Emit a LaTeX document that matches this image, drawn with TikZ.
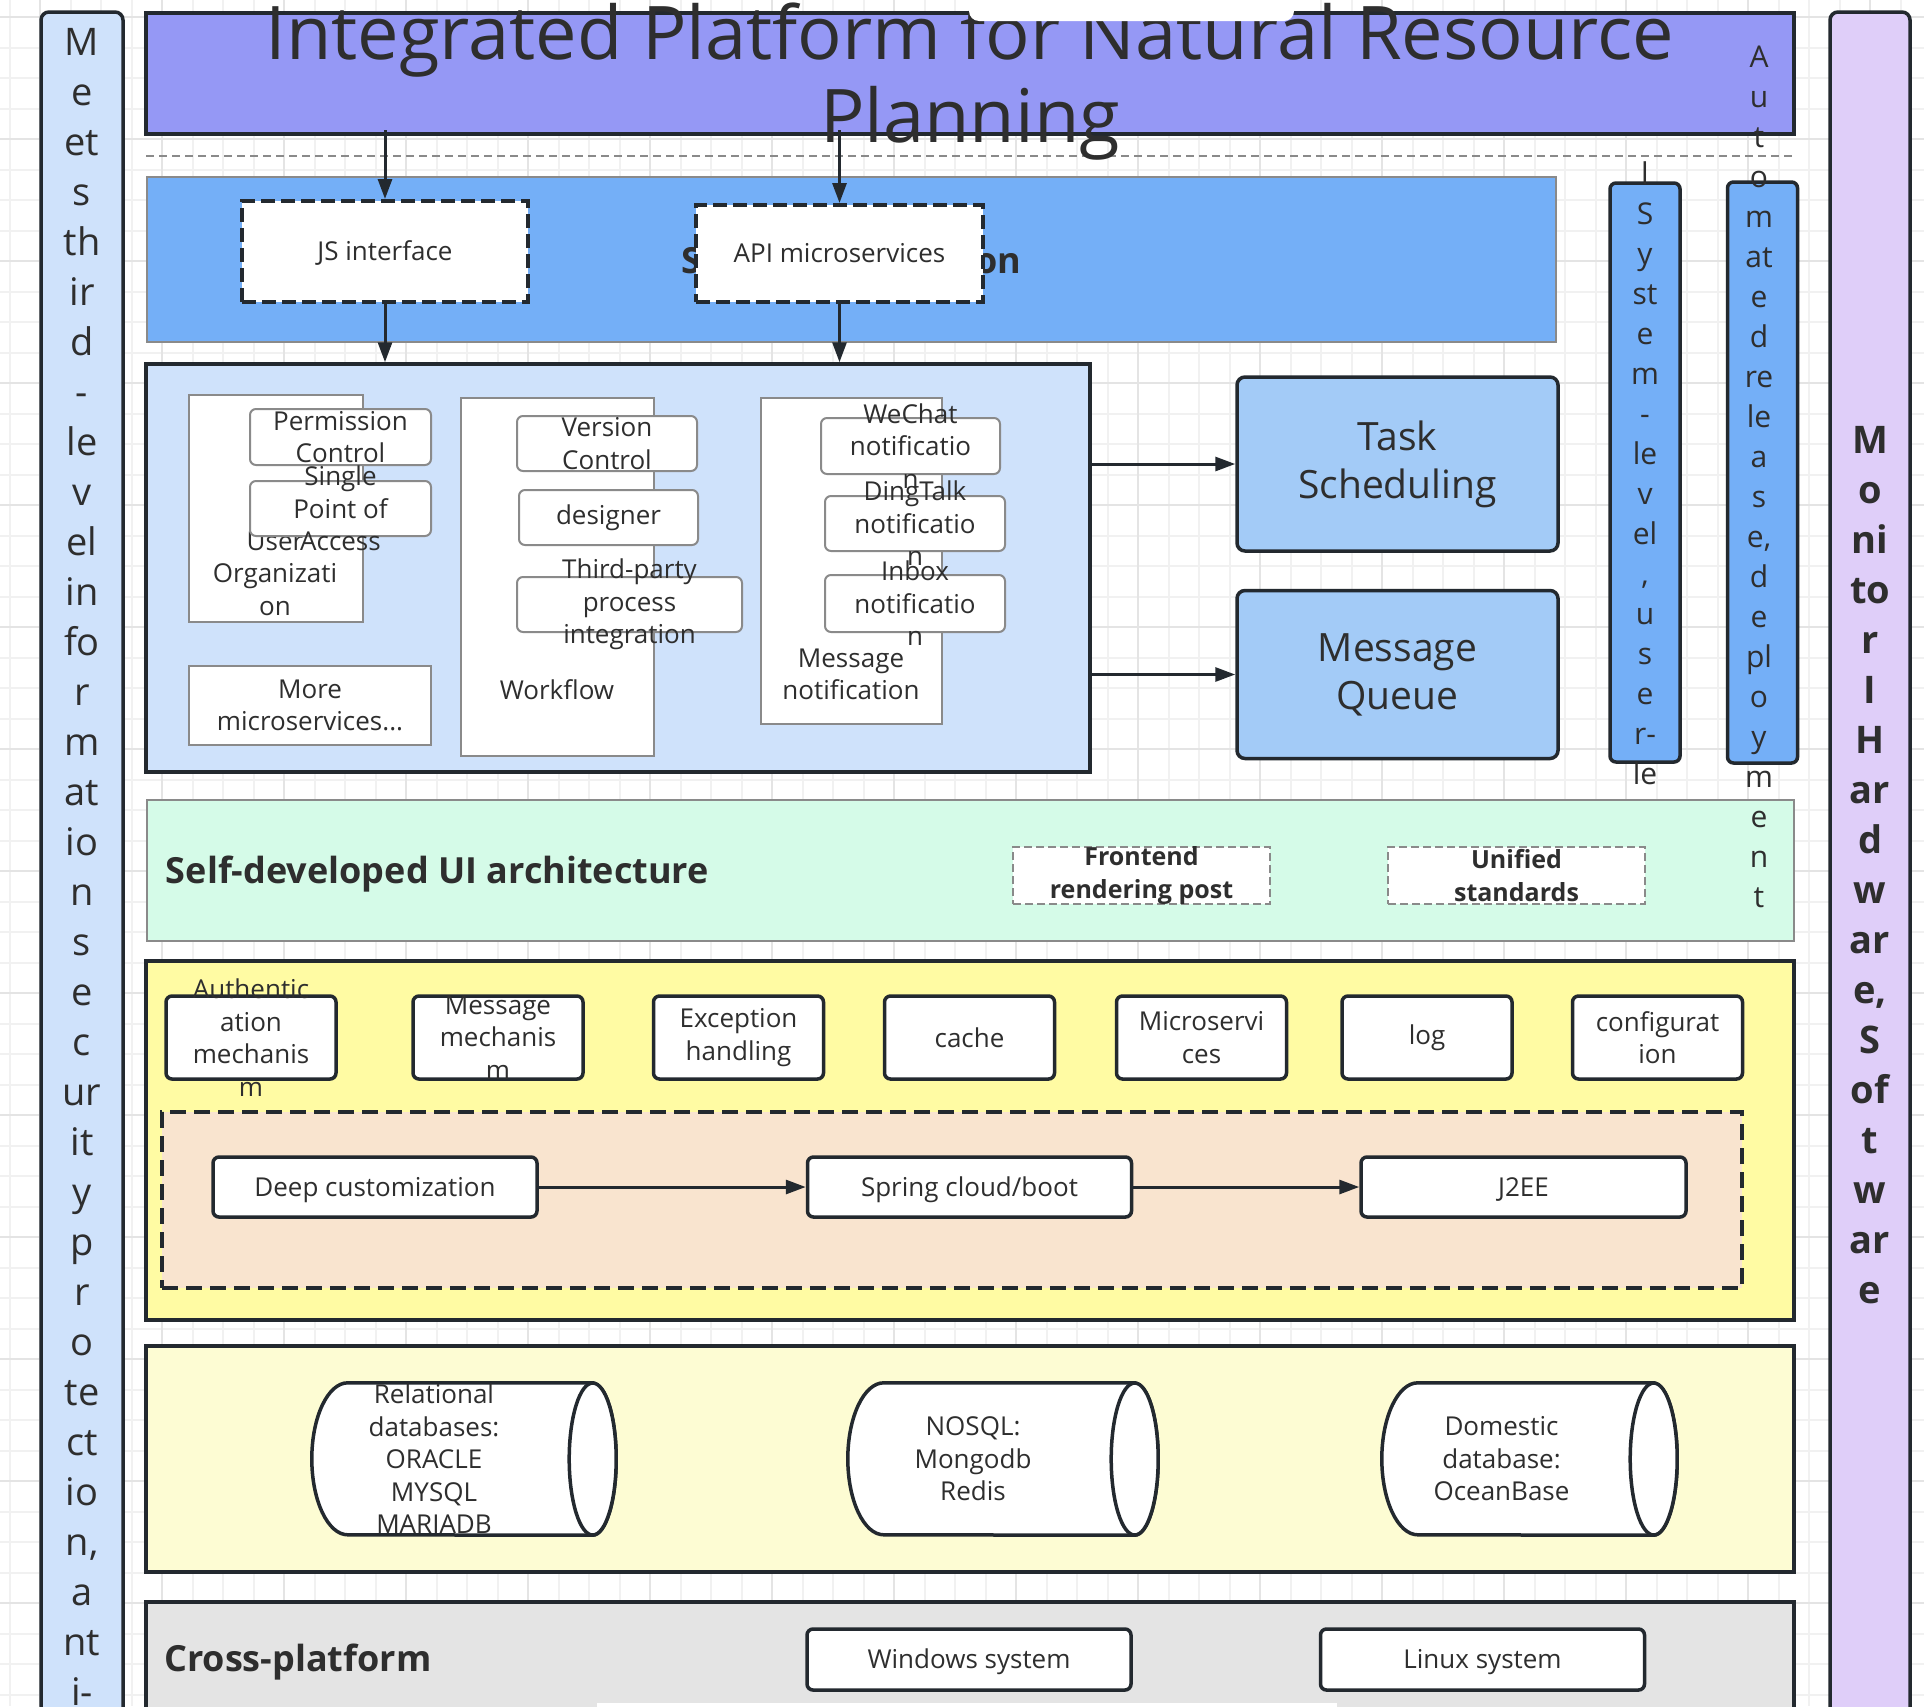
\documentclass[tikz,border=0pt]{standalone}
\usepackage{fontspec}
\setmainfont{Open Sans}
\usetikzlibrary{arrows.meta,positioning}
\definecolor{ink}{HTML}{23292F}
\definecolor{txtc}{HTML}{2E2E2E}
\definecolor{edge}{HTML}{8A8A8A}
\definecolor{gridmin}{HTML}{F1F1F1}
\definecolor{gridmaj}{HTML}{E4E4E4}
\definecolor{titlefill}{HTML}{9598F5}
\definecolor{svcfill}{HTML}{74AFF7}
\definecolor{msfill}{HTML}{CFE2FB}
\definecolor{mqfill}{HTML}{A3CBF7}
\definecolor{uifill}{HTML}{D5FBE8}
\definecolor{fwfill}{HTML}{FFFBA3}
\definecolor{custfill}{HTML}{F9E4CF}
\definecolor{dbfill}{HTML}{FDFCD3}
\definecolor{osfill}{HTML}{E4E4E4}
\definecolor{monfill}{HTML}{DFCEF9}
\newcommand{\setfs}[2]{\fontsize{#1}{#2}\selectfont}
\tikzset{
	sz/.style 2 args={minimum width=#1pt, minimum height=#2pt},
	layer/.style={draw=ink, line width=3.5pt, inner sep=0pt},
	softlayer/.style={draw=edge, line width=2.5pt, inner sep=0pt},
	vcol/.style={draw=ink, line width=3.5pt, rounded corners=8pt, inner sep=0pt},
	grp/.style={draw=edge, line width=2pt, fill=white, inner sep=0pt},
	item/.style={draw=edge, line width=2pt, fill=white, rounded corners=6pt, inner sep=0pt},
	comp/.style={draw=ink, line width=3.5pt, fill=white, rounded corners=6pt, inner sep=0pt, text=txtc, font=\setfs{26}{32.5}, text height=22pt, text depth=3.2pt},
	mq/.style={draw=ink, line width=3.5pt, fill=mqfill, rounded corners=8pt, inner sep=0pt, align=center, text=txtc, font=\setfs{39}{48}},
	iface/.style={draw=ink, line width=4pt, dash pattern=on 14pt off 6pt, fill=white, inner sep=0pt, text=txtc, font=\setfs{26}{32.5}, text height=22pt, text depth=3.2pt},
	std/.style={draw=edge, line width=2pt, dash pattern=on 8pt off 4pt, fill=white, inner sep=0pt, sz={257}{57}},
	cyl/.style={draw=ink, line width=3.5pt, fill=white},
	txt/.style={align=center, inner sep=0pt, text=txtc, font=\setfs{26}{32.5}},
	bigtxt/.style={inner sep=0pt, text=txtc, font=\setfs{36}{44}\bfseries},
	coltxt/.style={anchor=base, inner sep=0pt, text=txtc},
	flow/.style={-{Triangle[length=20pt,width=14pt]}, draw=ink, line width=3pt}
}
\begin{document}
\begin{tikzpicture}[x=1pt,y=-1pt]
\clip (0,0) rectangle (1924,1706);
\fill[white] (0,0) rectangle (1924,1706);
% grid
\foreach \k in {0,...,63}
	\draw[gridmin, line width=2pt] (9.5+30.5*\k,0) -- (9.5+30.5*\k,1706);
\foreach \k in {0,...,55}
	\draw[gridmin, line width=2pt] (0,17+30.5*\k) -- (1924,17+30.5*\k);
\foreach \k in {0,...,15}
	\draw[gridmaj, line width=2pt] (40+122*\k,0) -- (40+122*\k,1706);
\foreach \k in {0,...,13}
	\draw[gridmaj, line width=2pt] (0,17+122*\k) -- (1924,17+122*\k);

% side columns
\node[vcol, fill=msfill, sz={82}{1708}] (sec) at (82,866) {};
\foreach \w [count=\i from 0] in {M,e,et,s,th,ir,d,-,le,v,el,in,fo,r,m,at,io,n,s,e,c,ur,it,y,p,r,o,te,ct,io,{n,},a,nt,i-}
	\node[coltxt, font=\setfs{38}{50}] (sec-\i) at (82,55+50*\i) {\w};
\node[vcol, fill=monfill, sz={80}{1708}] (mon) at (1870,866) {};
\foreach \w [count=\i from 0] in {M,o,ni,to,r,I,H,ar,d,w,ar,{e,},S,of,t,w,ar,e}
	\node[coltxt, font=\setfs{38}{50}\bfseries] (mon-\i) at (1870,453+50*\i) {\w};

% title
\node[layer, line width=4pt, fill=titlefill, sz={1648}{121}] (ttl) at (970,73.5) {};
\coordinate (dl) at (146,156);
\draw[edge, line width=2pt, dash pattern=on 8pt off 5pt] (dl) -- (dl -| ttl.east);

% service band
\node[softlayer, fill=svcfill, sz={1409}{165}] (svc) at (851.5,259.5) {};
\node[bigtxt] (svc-t) at ([yshift=-5pt]svc.center) {Service integration};
\node[iface, sz={286}{101}] (js) at (385,251.5) {JS interface};
\node[iface, sz={287}{97}] (api) at (839.5,253.5) {API microservices};
\coordinate (ttl-js) at (ttl.south -| js.north);
\coordinate (ttl-api) at (ttl.south -| api.north);
\draw[flow] ([yshift=6pt]ttl-js) -- (js.north);
\draw[flow] ([yshift=6pt]ttl-api) -- (api.north);

% microservices
\node[layer, fill=msfill, sz={944}{408}] (ms) at (618,568) {};
\draw[flow] (js.south) -- (js.south |- ms.north);
\draw[flow] (api.south) -- (api.south |- ms.north);

\node[grp, sz={174}{227}] (org) at (276,508.5) {};
\node[txt] (org-t) at (275,573.5) {User\\Organizati\\on};
\node[item, sz={181}{56}] (perm) at (340.5,437) {};
\node[txt] (perm-t) at (perm) {Permission\\Control};
\node[item, sz={181}{55}] (sso) at (340.5,508.5) {};
\node[txt] (sso-t) at (sso) {Single\\Point of\\Access};
\node[grp, txt, sz={242}{79}] (more) at (310,705.5) {More\\microservices...};

\node[grp, sz={193}{358}] (wf) at (557.5,577) {};
\node[txt] (wf-t) at (557,690) {Workflow};
\node[item, txt, sz={180}{55}] (ver) at (607,443.5) {Version\\Control};
\node[item, txt, sz={179}{55}] (des) at (608.5,517.5) {designer};
\node[item, sz={225}{55}] (third) at (629.5,604.5) {};
\node[txt] (third-t) at (third) {Third-party\\process\\integration};

\node[grp, sz={181}{326}] (msgn) at (851.5,561) {};
\node[txt] (msgn-t) at (851,674.5) {Message\\notification};
\node[item, sz={179}{56}] (wechat) at (910.5,446) {};
\node[txt] (wechat-t) at (wechat) {WeChat\\notificatio\\n};
\node[item, sz={180}{55}] (ding) at (915,523.5) {};
\node[txt] (ding-t) at (ding) {DingTalk\\notificatio\\n};
\node[item, sz={180}{57}] (inbox) at (915,603.5) {};
\node[txt] (inbox-t) at (inbox) {Inbox\\notificatio\\n};

% task scheduling and queue
\node[mq, sz={321}{174}] (task) at (1397.5,464) {Task\\Scheduling};
\node[mq, sz={321}{168}, below=36pt of task] (queue) {Message\\Queue};
\draw[flow] (ms.east |- task.west) -- (task.west);
\draw[flow] (ms.east |- queue.west) -- (queue.west);

% side strips
\node[vcol, fill=svcfill, rounded corners=6pt, sz={70}{579}] (syslvl) at (1645,472.5) {};
\node[vcol, fill=svcfill, rounded corners=6pt, sz={70}{581}, right=44pt of syslvl] (deploy) {};
\foreach \w [count=\i from 0] in {l,S,y,st,e,m,-,le,v,el,{,},u,s,e,r-,le}
	\node[coltxt, font=\setfs{30}{40}] (sys-\i) at (1645,184+40*\i) {\w};

% UI layer
\node[softlayer, fill=uifill, sz={1647}{141}] (ui) at (970.5,870.5) {};
\node[bigtxt, anchor=west] (ui-t) at ([xshift=20pt,yshift=-4pt]ui.west) {Self-developed UI architecture};
\node[std] (front) at (1141.5,875.5) {};
\node[txt, font=\setfs{25}{33}\bfseries] (front-t) at (front) {Frontend\\rendering post};
\node[std, right=116pt of front] (unif) {};
\node[txt, font=\setfs{25}{33}\bfseries] (unif-t) at (unif) {Unified\\standards};

% framework layer
\node[layer, line width=4pt, fill=fwfill, sz={1648}{359}] (fw) at (970,1140.5) {};
\foreach \x/\lbl [count=\i] in {251/{Authentic\\ation\\mechanis\\m}, 498/{Message\\mechanis\\m}, 738.5/{Exception\\handling}, 969.5/cache, 1201.5/{Microservi\\ces}, 1427/log, 1657.5/{configurat\\ion}}
{
	\node[comp, sz={170}{83}] (comp-\i) at (\x,1037.5) {};
	\node[txt] (comp-\i-t) at (comp-\i) {\lbl};
}
\node[layer, line width=4pt, dash pattern=on 16pt off 8pt, fill=custfill, sz={1580}{176}] (cust) at (952,1200) {};
\node[comp, sz={324}{60}] (deep) at (375,1187) {Deep customization};
\node[comp, sz={324}{60}, right=267pt of deep] (spring) {Spring cloud/boot};
\node[comp, sz={325}{60}, right=226pt of spring] (j2ee) {J2EE};
\draw[flow] (deep) -- (spring);
\draw[flow] (spring) -- (j2ee);

% databases
\node[layer, line width=4pt, fill=dbfill, sz={1648}{226}] (db) at (970,1459) {};
\node[inner sep=0pt, sz={304}{152}] (rel) at (464,1459) {};
\node[inner sep=0pt, sz={310}{152}] (nosql) at (1003,1459) {};
\node[inner sep=0pt, sz={295}{152}] (dom) at (1529.5,1459) {};
\foreach \nm in {rel,nosql,dom}
{
	\draw[cyl] ([xshift=-23.5pt]\nm.north east) -- ([xshift=36pt]\nm.north west)
		arc[start angle=90, end angle=270, x radius=36pt, y radius=76pt]
		-- ([xshift=-23.5pt]\nm.south east)
		arc[start angle=-90, end angle=90, x radius=23.5pt, y radius=76pt] -- cycle;
	\draw[cyl] ([xshift=-23.5pt]\nm.east) ellipse[x radius=23.5pt, y radius=76pt];
}
\node[txt] (rel-t) at ([xshift=-30pt]rel.center) {Relational\\databases:\\ORACLE\\MYSQL\\MARIADB};
\node[txt] (nosql-t) at ([xshift=-30pt]nosql.center) {NOSQL:\\Mongodb\\Redis};
\node[txt] (dom-t) at ([xshift=-28pt]dom.center) {Domestic\\database:\\OceanBase};

% operating systems
\node[layer, line width=4pt, fill=osfill, sz={1648}{118}] (os) at (970,1661) {};
\node[bigtxt, anchor=west] (os-t) at ([xshift=20pt,yshift=-1pt]os.west) {Cross-platform};
\node[comp, sz={324}{61}] (win) at (969,1659.5) {Windows system};
\node[comp, sz={324}{61}, right=186pt of win] (linux) {Linux system};

% title text on top
\node[inner sep=0pt, align=center, text=txtc, font=\setfs{74}{83}] (ttl-t) at (970,82) {Integrated Platform for Natural Resource\\Planning};
\fill[white, rounded corners=10pt] (969,-20) rectangle (1294,21);
\fill[white] (597,1703) rectangle (1337,1720);

\foreach \w [count=\i from 0] in {A,u,t,o,m,at,e,d,re,le,a,s,{e,},d,e,pl,o,y,m,e,n,t}
	\node[coltxt, font=\setfs{30}{40}] (deploy-\i) at (1759,67+40*\i) {\w};
\end{tikzpicture}
\end{document}
